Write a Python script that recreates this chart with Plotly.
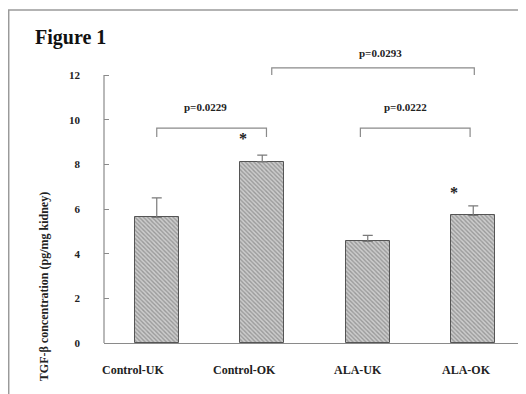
import plotly.graph_objects as go

categories = ["Control-UK", "Control-OK", "ALA-UK", "ALA-OK"]
means = [5.62, 8.11, 4.55, 5.71]
errors = [0.88, 0.30, 0.27, 0.43]
y_ticks = [0, 2, 4, 6, 8, 10, 12]

# significance brackets: x start, x end, top y, end y, label, label y, label x
brackets = [
    (0.00, 1.04, 9.62, 9.22, "p=0.0229", 10.56, 0.46),
    (1.93, 2.97, 9.62, 9.22, "p=0.0222", 10.56, 2.36),
    (1.09, 3.01, 12.32, 12.0, "p=0.0293", 12.98, 2.12),
]
# asterisks: x index, y, pixel shift
stars = [(1, 9.17, -19), (3, 6.76, -19)]
label_shift = [-24, -18, -10, -7]

SERIF = "Liberation Serif, Times New Roman, serif"
xs = list(range(len(categories)))
W, H = 518, 386
PX_PER_UNIT = 22.333
PLOT_H = 335

fig = go.Figure()
fig.add_trace(go.Bar(
    x=xs, y=means, width=0.42,
    marker=dict(
        color="#c8c8c8",
        line=dict(color="#555555", width=1),
        pattern=dict(shape="\\", size=3, solidity=0.45,
                     fgcolor="#666666", bgcolor="#cccccc"),
    ),
    error_y=dict(type="data", symmetric=False, array=errors,
                 arrayminus=[0] * len(errors), color="#7a7a7a",
                 thickness=1.2, width=5),
    showlegend=False, hoverinfo="skip",
))

shapes = []
# border frame
shapes.append(dict(type="rect", xref="paper", yref="paper",
                   x0=-0.2258, x1=1.2, y0=-0.3, y1=(PLOT_H - 2) / PLOT_H,
                   line=dict(color="#9a9a9a", width=1.5)))
# y axis line from 0 to 12
shapes.append(dict(type="line", xref="paper", yref="y", x0=0, x1=0,
                   y0=0, y1=12, line=dict(color="#8a8a8a", width=1.2)))
annotations = []
for x0, x1, ytop, yend, txt, ty, tx in brackets:
    shapes.append(dict(type="path",
                       path=f"M {x0},{yend} L {x0},{ytop} L {x1},{ytop} L {x1},{yend}",
                       xref="x", yref="y",
                       line=dict(color="#8a8a8a", width=1.2)))
    annotations.append(dict(x=tx, y=ty, xref="x", yref="y", text=txt,
                            showarrow=False,
                            font=dict(family=SERIF, size=11, color="#222", weight="bold")))
for sx, sy, sh in stars:
    annotations.append(dict(x=sx, y=sy, xref="x", yref="y", text="*", xshift=sh,
                            showarrow=False,
                            font=dict(family=SERIF, size=16, color="#222", weight="bold")))
for i, c in enumerate(categories):
    annotations.append(dict(x=i, y=0, xref="x", yref="paper", text=c,
                            xshift=label_shift[i], yshift=-27, yanchor="middle",
                            showarrow=False,
                            font=dict(family=SERIF, size=12, color="#222", weight="bold")))
annotations.append(dict(x=0, y=2.5, xref="paper", yref="y", xshift=-69,
                        text="TGF-β concentration (pg/mg kidney)", textangle=-90,
                        showarrow=False,
                        font=dict(family=SERIF, size=12, color="#222", weight="bold")))

fig.update_layout(
    width=W, height=H,
    margin=dict(l=96, r=0, t=0, b=H - PLOT_H),
    paper_bgcolor="white", plot_bgcolor="white",
    title=dict(text="Figure 1", x=27 / W, xanchor="left", y=1 - 29 / H,
               yanchor="middle",
               font=dict(family=SERIF, size=20, color="#111", weight="bold")),
    xaxis=dict(range=[-0.5, 3.5], showgrid=False, zeroline=False,
               showticklabels=False, ticks="", showline=True,
               linecolor="#8a8a8a", linewidth=1.2, fixedrange=True),
    yaxis=dict(range=[0, PLOT_H / PX_PER_UNIT], showgrid=False, zeroline=False,
               tickvals=y_ticks, ticks="inside", ticklen=5, tickcolor="#8a8a8a",
               showline=False, ticklabelstandoff=23,
               tickfont=dict(family=SERIF, size=11, color="#222", weight="bold")),
    shapes=shapes, annotations=annotations,
    bargap=0,
)

fig.write_html("out.html")
